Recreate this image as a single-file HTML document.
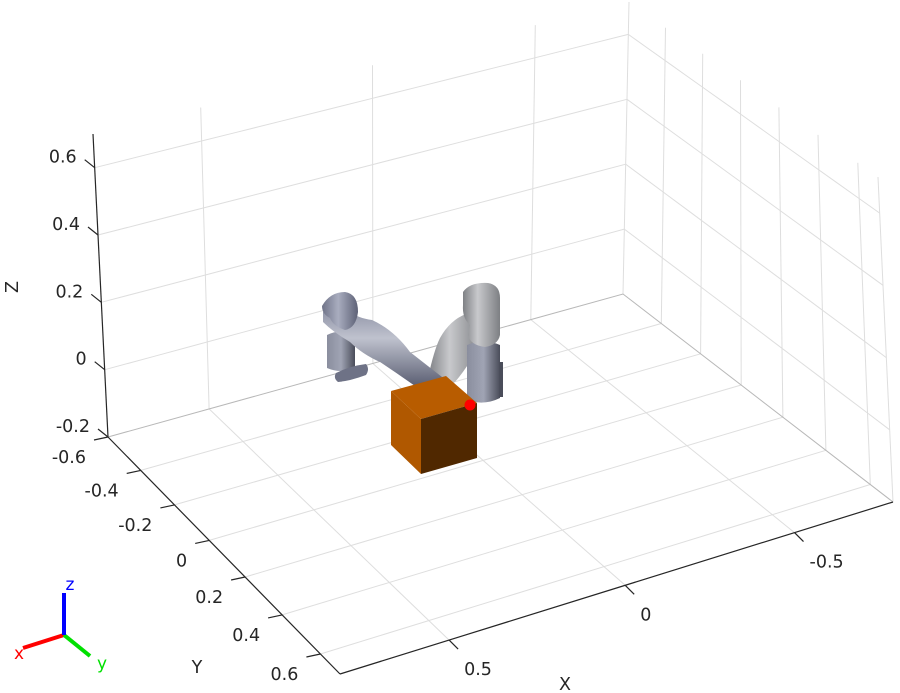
<!DOCTYPE html>
<html><head><meta charset="utf-8"><style>
html,body{margin:0;padding:0;background:#fff;}
svg{display:block;font-family:"DejaVu Sans","Liberation Sans",sans-serif;}
</style></head><body>
<svg id="chart" width="900" height="693" viewBox="0 0 900 693" xmlns="http://www.w3.org/2000/svg">
<defs>
<linearGradient id="gPurple" x1="0" y1="0" x2="1" y2="0"><stop offset="0" stop-color="#6f7388"/><stop offset="0.45" stop-color="#a9adbf"/><stop offset="1" stop-color="#5d6176"/></linearGradient>
<linearGradient id="gLight" x1="0" y1="0" x2="1" y2="0"><stop offset="0" stop-color="#7e8084"/><stop offset="0.4" stop-color="#c8c9cc"/><stop offset="1" stop-color="#7d7f83"/></linearGradient>
<linearGradient id="gCol" x1="0" y1="0" x2="1" y2="0"><stop offset="0" stop-color="#8a8e9e"/><stop offset="0.5" stop-color="#a0a4b4"/><stop offset="1" stop-color="#4a4d5a"/></linearGradient>
<linearGradient id="gArm" x1="0" y1="0" x2="0" y2="1"><stop offset="0" stop-color="#8a8ea2"/><stop offset="0.4" stop-color="#bfc2ce"/><stop offset="1" stop-color="#5a5e72"/></linearGradient>
</defs>
<g id="grid"></g>
<g id="axes"></g>
<g id="robot">
  <path d="M327,335 Q341,328 355,335 L355,368 Q341,374 327,368 Z" fill="url(#gCol)"/>
  <path d="M336,373 Q350,366 366,364 Q370,369 366,375 Q350,381 338,382 Q333,378 336,373 Z" fill="#6e7286"/>
  <path d="M428,378 Q434,350 440,338 Q450,320 466,314 Q482,318 482,338 Q472,362 455,382 Q444,388 428,380 Z" fill="url(#gLight)"/>
  <path d="M467,345 Q484,338 500,345 L500,398 Q484,406 467,400 Z" fill="url(#gCol)"/>
  <rect x="499" y="362" width="4" height="35" fill="#4a4d5a"/>
  <path d="M463,292 Q470,282 488,283 Q500,285 500,298 L500,335 Q498,345 485,347 Q470,345 468,335 L470,325 Q462,318 463,305 Z" fill="url(#gLight)"/>
  <path d="M323,312 Q334,300 350,312 Q358,318 372,320 Q394,330 410,352 L442,377 Q434,388 415,386 Q398,374 380,362 Q362,354 350,342 Q333,332 323,322 Z" fill="url(#gArm)"/>
  <path d="M322,306 Q330,292 345,292 Q358,294 358,312 Q356,328 345,330 Q333,326 330,318 Q322,314 322,306 Z" fill="url(#gPurple)"/>
</g>
<g id="cube">
  <polygon points="391,391 421,419 421,474 391,445" fill="#b05800"/>
  <polygon points="391,391 446,376 477,403 421,419" fill="#b85c00"/>
  <polygon points="421,419 477,403 477,458 421,474" fill="#502800"/>
  <circle cx="470" cy="405" r="5.5" fill="#ff0000"/>
</g>
<g id="triad">
  <line x1="64" y1="635" x2="23" y2="648" stroke="#ff0000" stroke-width="4"/>
  <line x1="64" y1="635" x2="90" y2="656" stroke="#00e000" stroke-width="4"/>
  <line x1="64" y1="635" x2="64" y2="593" stroke="#0000ff" stroke-width="4"/>
  <text x="19" y="659" font-size="17" fill="#ff0000" text-anchor="middle">x</text>
  <text x="102" y="669" font-size="17" fill="#00e000" text-anchor="middle">y</text>
  <text x="70" y="590" font-size="17" fill="#0000ff" text-anchor="middle">z</text>
</g>
</svg>
<script>
const xTicks = [0.5, 0, -0.5];
const xTickLabels = ["0.5", "0", "-0.5"];
const yTicks = [-0.6, -0.4, -0.2, 0, 0.2, 0.4, 0.6];
const yTickLabels = ["-0.6", "-0.4", "-0.2", "0", "0.2", "0.4", "0.6"];
const zTicks = [-0.2, 0, 0.2, 0.4, 0.6];
const zTickLabels = ["-0.2", "0", "0.2", "0.4", "0.6"];
const xLim = [-0.8, 0.8];
const yLim = [-0.6, 0.7];
const zLim = [-0.2, 0.7];

const NS = "http://www.w3.org/2000/svg";
function homog(q){
  const [x0,y0]=q[0],[x1,y1]=q[1],[x2,y2]=q[2],[x3,y3]=q[3];
  const dx1=x1-x2,dx2=x3-x2,dx3=x0-x1+x2-x3,dy1=y1-y2,dy2=y3-y2,dy3=y0-y1+y2-y3;
  const den=dx1*dy2-dx2*dy1;
  const g=(dx3*dy2-dx2*dy3)/den, h=(dx1*dy3-dx3*dy1)/den;
  const a=x1-x0+g*x1,b=x3-x0+h*x3,c=x0,d=y1-y0+g*y1,e=y3-y0+h*y3,f=y0;
  return (u,v)=>{const w=g*u+h*v+1;return [(a*u+b*v+c)/w,(d*u+e*v+f)/w];};
}
const Hb = homog([[108,437],[623,294],[893,502],[340,674]]);
const Ht = homog([[93,134],[629,2],[878,177],[332,334]]);
function P(x,y,z){
  const u=(xLim[1]-x)/(xLim[1]-xLim[0]);
  const v=(y-yLim[0])/(yLim[1]-yLim[0]);
  const w=(z-zLim[0])/(zLim[1]-zLim[0]);
  const b=Hb(u,v),t=Ht(u,v);
  return [b[0]+(t[0]-b[0])*w,b[1]+(t[1]-b[1])*w];
}
const grid=document.getElementById('grid');
const axes=document.getElementById('axes');
function poly(parent,pts,stroke,w,name){
  const el=document.createElementNS(NS,'polyline');
  el.setAttribute('points',pts.map(p=>p[0].toFixed(1)+','+p[1].toFixed(1)).join(' '));
  el.setAttribute('fill','none');el.setAttribute('stroke',stroke);el.setAttribute('stroke-width',w);
  
  
  parent.appendChild(el);
}
function seg(f,n){const a=[];for(let i=0;i<=n;i++)a.push(f(i/n));return a;}
const GC='#dedede';
xTicks.forEach(x=>poly(grid,seg(t=>P(x,yLim[0]+t*(yLim[1]-yLim[0]),zLim[0]),1),GC,1,'floor-grid-x'));
yTicks.slice(1).forEach(y=>poly(grid,seg(t=>P(xLim[1]+t*(xLim[0]-xLim[1]),y,zLim[0]),1),GC,1,'floor-grid-y'));
xTicks.forEach(x=>poly(grid,seg(t=>P(x,yLim[0],zLim[0]+t*(zLim[1]-zLim[0])),1),GC,1,'back-wall-grid-x'));
zTicks.slice(1).forEach(z=>poly(grid,seg(t=>P(xLim[1]+t*(xLim[0]-xLim[1]),yLim[0],z),12),GC,1,'back-wall-grid-z'));
yTicks.slice(1).forEach(y=>poly(grid,seg(t=>P(xLim[0],y,zLim[0]+t*(zLim[1]-zLim[0])),1),GC,1,'side-wall-grid-y'));
zTicks.slice(1).forEach(z=>poly(grid,seg(t=>P(xLim[0],yLim[0]+t*(yLim[1]-yLim[0]),z),12),GC,1,'side-wall-grid-z'));
poly(grid,[P(xLim[0],yLim[0],zLim[0]),P(xLim[0],yLim[0],zLim[1])],GC,1,'back-corner-edge');
poly(grid,[P(xLim[1],yLim[0],zLim[0]),P(xLim[0],yLim[0],zLim[0]),P(xLim[0],yLim[1],zLim[0])],'#b8b8b8',1,'floor-back-edges');
poly(grid,[P(xLim[0],yLim[1],zLim[0]),P(xLim[0],yLim[1],zLim[1])],GC,1,'side-edge');
poly(axes,[P(xLim[1],yLim[0],zLim[0]),P(xLim[1],yLim[0],zLim[1])],'#262626',1.2,'z-axis-line');
poly(axes,[P(xLim[1],yLim[0],zLim[0]),P(xLim[1],yLim[1],zLim[0])],'#262626',1.2,'y-axis-line');
poly(axes,[P(xLim[1],yLim[1],zLim[0]),P(xLim[0],yLim[1],zLim[0])],'#262626',1.2,'x-axis-line');
function txt(x,y,s,anchor,name){
  const el=document.createElementNS(NS,'text');
  el.setAttribute('x',x.toFixed(1));el.setAttribute('y',y.toFixed(1));
  el.setAttribute('font-size','17.5');el.setAttribute('fill','#262626');el.setAttribute('text-anchor',anchor);
  el.textContent=s;
  
  
  axes.appendChild(el);return el;
}
zTicks.forEach((z,i)=>{const p=P(xLim[1],yLim[0],z);
  poly(axes,[p,[p[0]-10,p[1]-8]],'#262626',1.2,'z-tick');
  txt(p[0]-18,p[1]-5,zTickLabels[i],'end','z-tick-label');});
yTicks.forEach((y,i)=>{const p=P(xLim[1],y,zLim[0]);
  poly(axes,[p,[p[0]-14,p[1]+3]],'#262626',1.2,'y-tick');
  txt(p[0]-22,p[1]+26,yTickLabels[i],'end','y-tick-label');});
xTicks.forEach((x,i)=>{const p=P(x,yLim[1],zLim[0]);
  poly(axes,[p,[p[0]+9,p[1]+9]],'#262626',1.2,'x-tick');
  txt(p[0]+15,p[1]+35,xTickLabels[i],'start','x-tick-label');});
const zt=txt(0,0,'Z','middle','z-axis-title');zt.setAttribute('transform','translate(18,287) rotate(-90)');
txt(197,673,'Y','middle','y-axis-title');
txt(565,690,'X','middle','x-axis-title');
</script>
</body></html>
